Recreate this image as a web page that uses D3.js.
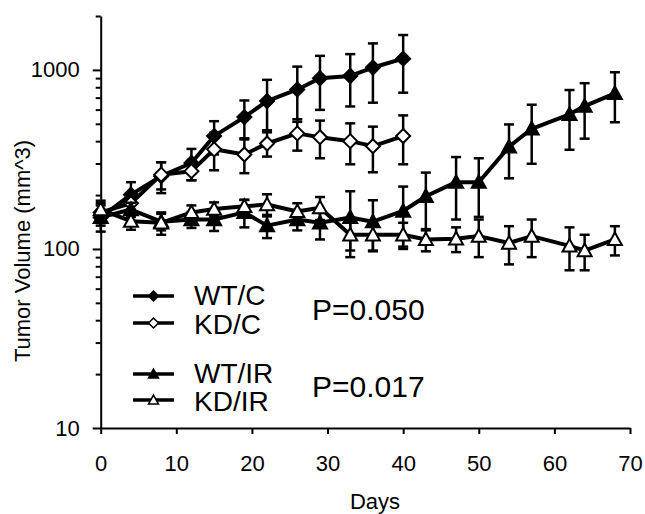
<!DOCTYPE html>
<html>
<head>
<meta charset="utf-8">
<script src="https://cdn.jsdelivr.net/npm/d3@7"></script>
<style>
  body { margin: 0; background: #fff; }
  svg { font-family: "Liberation Sans", Arial, sans-serif; }
</style>
</head>
<body>
<svg width="645" height="514"></svg>
<script>
// days measured for each group
var daysC = [0, 4, 8, 12, 15, 19, 22, 26, 29, 33, 36, 40];
var daysIR = [0, 4, 8, 12, 15, 19, 22, 26, 29, 33, 36, 40, 43, 47, 50, 54, 57, 62, 64, 68];

// mean tumor volume (mm^3) and error
var wtC = [150, 201, 255, 302, 427, 545, 670, 778, 898, 925, 1031, 1156];
var wtCErr = [25, 35, 50, 60, 90, 130, 210, 265, 300, 300, 375, 410];
var kdC = [160, 180, 260, 272, 360, 337, 388, 442, 421, 400, 375, 427];
var kdCErr = [20, 20, 45, 30, 85, 72, 60, 88, 100, 103, 107, 130];
var wtIR = [150, 166, 142, 146, 146, 160, 135, 146, 140, 150, 142, 163, 197, 236, 236, 372, 469, 565, 628, 740];
var wtIRErr = [15, 15, 15, 15, 20, 28, 20, 19, 27, 60, 45, 60, 70, 90, 85, 124, 170, 207, 215, 230];
var kdIR = [166, 143, 140, 160, 167, 173, 177, 162, 170, 120, 120, 120, 113, 114, 118, 108, 118, 104, 98, 113];
var kdIRErr = [20, 15, 20, 15, 15, 15, 25, 18, 25, 22, 22, 20, 16, 18, 28, 26, 28, 28, 22, 21];

var seriesNames = ["WT/C", "KD/C", "WT/IR", "KD/IR"];
var pValues = ["P=0.050", "P=0.017"];
var xTicks = [0, 10, 20, 30, 40, 50, 60, 70];
var yTicks = [10, 100, 1000];

var series = [
  {name: seriesNames[0], days: daysC, vals: wtC, err: wtCErr, shape: "diamond", fill: "#000"},
  {name: seriesNames[1], days: daysC, vals: kdC, err: kdCErr, shape: "diamond", fill: "#fff"},
  {name: seriesNames[2], days: daysIR, vals: wtIR, err: wtIRErr, shape: "triangle", fill: "#000"},
  {name: seriesNames[3], days: daysIR, vals: kdIR, err: kdIRErr, shape: "triangle", fill: "#fff"}
];

var svg = d3.select("svg");

var x = d3.scaleLinear().domain([0, 70]).range([100.7, 630]);
var y = d3.scaleLog().domain([10, 2000]).range([428, 16]);

// marker shapes
var shapePath = function(shape, s) {
  if (shape == "diamond") {
    return "M0," + (-s) + "L" + s + ",0L0," + s + "L" + (-s) + ",0Z";
  }
  var h = s * 1.8;
  return "M0," + (-h * 0.55) + "L" + s + "," + (h * 0.45) + "L" + (-s) + "," + (h * 0.45) + "Z";
}

// y axis: minor ticks then major with labels
var minor = [];
[10, 100, 1000].forEach(function(d) {
  for (var k = 2; k <= 9; k++) { if (d * k <= 2000) minor.push(d * k); }
});
svg.append("g")
  .attr("transform", "translate(100.7,0)")
  .call(d3.axisLeft(y).tickValues(minor).tickSize(5).tickFormat(""))
  .call(function(g) { g.select(".domain").remove(); g.selectAll("line").attr("stroke-width", 2); });

var yAxis = svg.append("g")
  .attr("transform", "translate(100.7,0)")
  .call(d3.axisLeft(y).tickValues(yTicks).tickSize(8).tickSizeOuter(0).tickPadding(13).tickFormat(d3.format("d")));
yAxis.select(".domain").attr("stroke-width", 2);
yAxis.selectAll("line").attr("stroke-width", 2);
yAxis.selectAll("text").attr("font-size", 22).attr("font-family", "Liberation Sans, Arial, sans-serif").attr("fill", "#000");

var xAxis = svg.append("g")
  .attr("transform", "translate(0,428)")
  .call(d3.axisBottom(x).tickValues(xTicks).tickSize(6).tickSizeOuter(0));
xAxis.select(".domain").attr("stroke-width", 2);
xAxis.selectAll("line").attr("stroke-width", 2);
xAxis.selectAll("text")
  .attr("font-size", 22).attr("font-family", "Liberation Sans, Arial, sans-serif").attr("fill", "#000")
  .attr("y", 43).attr("dy", 0);

// axis titles
svg.append("text")
  .attr("x", 375).attr("y", 509)
  .attr("text-anchor", "middle").attr("font-size", 22)
  .text("Days");
svg.append("text")
  .attr("transform", "translate(30,251) rotate(-90)")
  .attr("text-anchor", "middle").attr("font-size", 22)
  .text("Tumor Volume (mm^3)");

var line = d3.line()
  .x(function(d) { return x(d.day); })
  .y(function(d) { return y(d.v); });

series.forEach(function(s) {
  var pts = s.days.map(function(day, i) { return {day: day, v: s.vals[i], e: s.err[i]}; });
  var g = svg.append("g");

  // error bars
  var eb = g.selectAll(".eb").data(pts).enter().append("g");
  eb.append("line")
    .attr("x1", function(d) { return x(d.day); }).attr("x2", function(d) { return x(d.day); })
    .attr("y1", function(d) { return y(d.v + d.e); }).attr("y2", function(d) { return y(d.v - d.e); })
    .attr("stroke", "#000").attr("stroke-width", 2.5);
  [1, -1].forEach(function(sign) {
    eb.append("line")
      .attr("x1", function(d) { return x(d.day) - 5; }).attr("x2", function(d) { return x(d.day) + 5; })
      .attr("y1", function(d) { return y(d.v + sign * d.e); }).attr("y2", function(d) { return y(d.v + sign * d.e); })
      .attr("stroke", "#000").attr("stroke-width", 2.5);
  });

  g.append("path")
    .datum(pts)
    .attr("d", line)
    .attr("fill", "none").attr("stroke", "#000").attr("stroke-width", 4)
    .attr("stroke-linejoin", "round");

  g.selectAll(".m").data(pts).enter().append("path")
    .attr("transform", function(d) { return "translate(" + x(d.day) + "," + y(d.v) + ")"; })
    .attr("d", shapePath(s.shape, 7))
    .attr("fill", s.fill).attr("stroke", "#000").attr("stroke-width", 2);
});

// legend
var legendY = [296, 323, 374, 400];
var textY = [305, 334, 383, 411];
var leg = svg.append("g");
series.forEach(function(s, i) {
  leg.append("line")
    .attr("x1", 133).attr("x2", 174).attr("y1", legendY[i]).attr("y2", legendY[i])
    .attr("stroke", "#000").attr("stroke-width", 3.5);
  leg.append("path")
    .attr("transform", "translate(153.5," + legendY[i] + ")")
    .attr("d", shapePath(s.shape, 5))
    .attr("fill", s.fill).attr("stroke", "#000").attr("stroke-width", 1.5);
  leg.append("text")
    .attr("x", 194).attr("y", textY[i])
    .attr("font-size", 28)
    .text(s.name);
});
var pY = [320, 397];
pValues.forEach(function(p, i) {
  leg.append("text")
    .attr("x", 312).attr("y", pY[i])
    .attr("font-size", 30)
    .text(p);
});
</script>
</body>
</html>
